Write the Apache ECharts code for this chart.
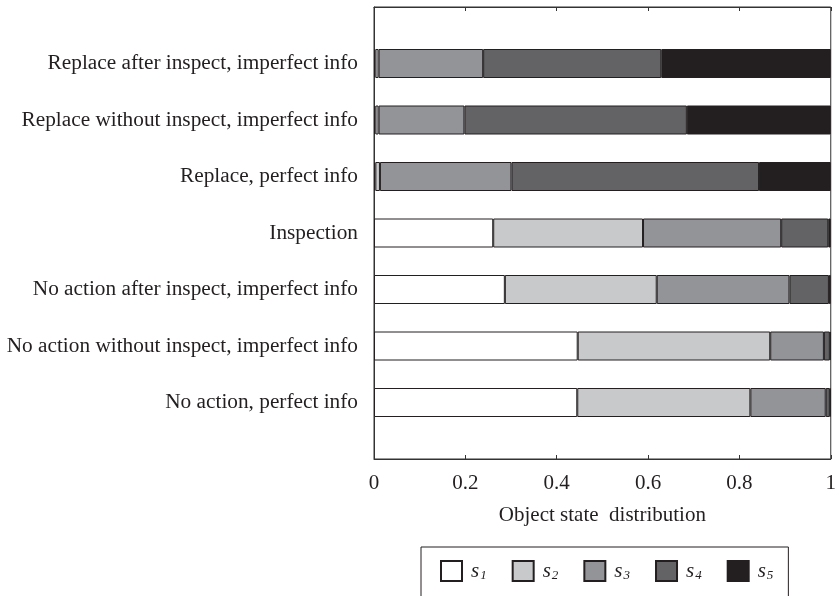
<!DOCTYPE html>
<html>
<head>
<meta charset="utf-8">
<script src="https://cdn.jsdelivr.net/npm/echarts@6/dist/echarts.min.js"></script>
<style>html,body{margin:0;padding:0;background:#fff;}#c{width:839px;height:596px;}</style>
</head>
<body>
<div id="c"></div>
<script>
// categories listed top to bottom
const categories = [
  'Replace after inspect, imperfect info',
  'Replace without inspect, imperfect info',
  'Replace, perfect info',
  'Inspection',
  'No action after inspect, imperfect info',
  'No action without inspect, imperfect info',
  'No action, perfect info'
];
const s1 = [0.003, 0.003, 0.003, 0.261, 0.2865, 0.446, 0.445];
const s2 = [0.007, 0.007, 0.010, 0.328, 0.3325, 0.4215, 0.379];
const s3 = [0.229, 0.188, 0.288, 0.3025, 0.2906, 0.1175, 0.165];
const s4 = [0.390, 0.487, 0.542, 0.103, 0.0864, 0.013, 0.009];
const s5 = [0.371, 0.315, 0.157, 0.0054, 0.004, 0.002, 0.002];
const seriesNames = ['s1', 's2', 's3', 's4', 's5'];
const seriesData = [s1, s2, s3, s4, s5];
const seriesColors = ['#ffffff', '#c8c9cb', '#939497', '#636365', '#231f20'];
const xTicks = [0, 0.2, 0.4, 0.6, 0.8, 1];

const font = 'Liberation Serif, Times New Roman, serif';
const textColor = '#231f20';
const padCats = [''].concat(categories, ['']);

const chart = echarts.init(document.getElementById('c'), null, {renderer: 'canvas'});
chart.setOption({
  animation: false,
  backgroundColor: '#fff',
  textStyle: {fontFamily: font, color: textColor},
  grid: {left: 374, right: 6, top: 7, bottom: 137, show: true, borderColor: '#333333', borderWidth: 1, containLabel: false},
  legend: {
    data: seriesNames,
    left: 421, top: 547,
    orient: 'horizontal',
    padding: [9, 15, 40, 19],
    borderColor: '#231f20', borderWidth: 1,
    itemWidth: 21, itemHeight: 20, itemGap: 25,
    icon: 'rect',
    formatter: function (n) { return '{s|s}{sub|' + n.slice(1) + '}'; },
    textStyle: {
      fontFamily: font, color: textColor, padding: [0, 0, 0, 4],
      rich: {
        s: {fontFamily: font, fontStyle: 'italic', fontSize: 21, color: textColor, lineHeight: 22},
        sub: {fontFamily: font, fontStyle: 'italic', fontSize: 13, color: textColor, verticalAlign: 'bottom', lineHeight: 22, padding: [13, 0, 0, 1]}
      }
    }
  },
  xAxis: [{
    type: 'value', min: xTicks[0], max: xTicks[xTicks.length - 1], interval: 0.2,
    position: 'bottom',
    name: 'Object state  distribution', nameLocation: 'middle', nameGap: 46,
    nameTextStyle: {fontFamily: font, fontSize: 21, color: textColor},
    axisLine: {show: true, lineStyle: {color: '#333333', width: 1}},
    axisTick: {show: true, inside: true, length: 4, lineStyle: {color: '#333333'}},
    axisLabel: {fontFamily: font, fontSize: 21, color: textColor, margin: 14},
    splitLine: {show: false}
  }, {
    type: 'value', min: xTicks[0], max: xTicks[xTicks.length - 1], interval: 0.2,
    position: 'top',
    axisLine: {show: true, lineStyle: {color: '#333333', width: 1}},
    axisTick: {show: true, inside: true, length: 4, lineStyle: {color: '#333333'}},
    axisLabel: {show: false},
    splitLine: {show: false}
  }],
  yAxis: {
    type: 'category', data: padCats, inverse: true, boundaryGap: false,
    axisLine: {show: true, lineStyle: {color: '#333333'}},
    axisTick: {show: false},
    axisLabel: {fontFamily: font, fontSize: 21.3, color: textColor, margin: 16},
    splitLine: {show: false}
  },
  series: seriesNames.map(function (n, i) {
    return {
      name: n, type: 'bar', stack: 'total', barWidth: 29,
      xAxisIndex: 0,
      itemStyle: {color: seriesColors[i], borderColor: '#231f20', borderWidth: 1},
      data: [null].concat(seriesData[i], [null])
    };
  })
});
</script>
</body>
</html>
